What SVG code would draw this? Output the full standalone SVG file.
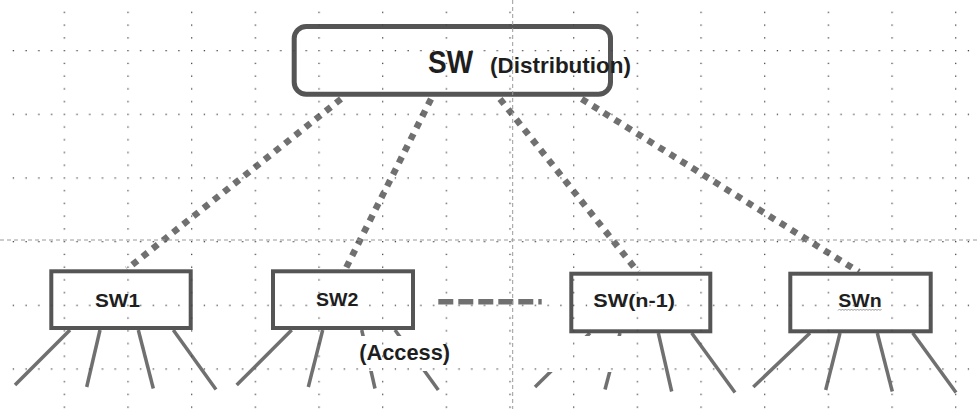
<svg xmlns="http://www.w3.org/2000/svg" width="977" height="409" viewBox="0 0 977 409">
  <defs>
    <style>
      .box { fill: #ffffff; stroke: #555555; stroke-width: 4; }
      .top { fill: #ffffff; stroke: #555555; stroke-width: 5; }
      .lbl { font-family: "Liberation Sans", Arial, sans-serif; font-weight: bold; fill: #1e1e1e; }
      .dot { fill: none; stroke: #707070; stroke-width: 6.5; stroke-dasharray: 6.5 6.5; }
      .leg { stroke: #707070; stroke-width: 3.5; stroke-linecap: butt; }
      .guide { stroke: #9a9a9a; stroke-width: 1; stroke-dasharray: 4 3; }
    </style>
    <pattern id="grid" patternUnits="userSpaceOnUse" x="0" y="50" width="63.67" height="63.67">
      <g fill="#444444">
        <rect x="0" y="0" width="1.3" height="1.3"/>
        <rect x="0" y="12.73" width="1.3" height="1.3"/>
        <rect x="0" y="25.47" width="1.3" height="1.3"/>
        <rect x="0" y="38.2" width="1.3" height="1.3"/>
        <rect x="0" y="50.93" width="1.3" height="1.3"/>
        <rect x="12.73" y="0" width="1.3" height="1.3"/>
        <rect x="25.47" y="0" width="1.3" height="1.3"/>
        <rect x="38.2" y="0" width="1.3" height="1.3"/>
        <rect x="50.93" y="0" width="1.3" height="1.3"/>
      </g>
    </pattern>
  </defs>

  <rect x="0" y="0" width="977" height="409" fill="#ffffff"/>

  <!-- legs below access switches -->
  <g id="legs">
    <line class="leg" x1="70" y1="330" x2="15" y2="385"/>
    <line class="leg" x1="100" y1="330" x2="86.7" y2="387"/>
    <line class="leg" x1="138.3" y1="330" x2="153.3" y2="388.5"/>
    <line class="leg" x1="173.3" y1="330" x2="216" y2="389.5"/>

    <line class="leg" x1="291.7" y1="330" x2="236.7" y2="385"/>
    <line class="leg" x1="322.7" y1="330" x2="308.3" y2="387"/>
    <line class="leg" x1="361.7" y1="330" x2="375" y2="388.5"/>
    <line class="leg" x1="395" y1="330" x2="438.3" y2="390"/>

    <line class="leg" x1="590" y1="333" x2="535" y2="387"/>
    <line class="leg" x1="620" y1="333" x2="605" y2="389.5"/>
    <line class="leg" x1="658.3" y1="333" x2="671.7" y2="391.5"/>
    <line class="leg" x1="691.7" y1="333" x2="735" y2="392.5"/>

    <line class="leg" x1="810" y1="333" x2="753.3" y2="387"/>
    <line class="leg" x1="840" y1="333" x2="825.7" y2="390"/>
    <line class="leg" x1="877.3" y1="333" x2="892.3" y2="391.5"/>
    <line class="leg" x1="912.7" y1="333" x2="956" y2="392.5"/>
  </g>

  <!-- white areas covering parts of the legs -->
  <rect x="352" y="336" width="105" height="35" fill="#ffffff"/>
  <rect x="528" y="336" width="110" height="36" fill="#ffffff"/>

  <!-- connectors -->
  <g id="connectors">
    <line class="dot" x1="341" y1="99" x2="127" y2="269"/>
    <line class="dot" x1="431" y1="99" x2="345" y2="270"/>
    <line class="dot" x1="500" y1="99" x2="638" y2="272"/>
    <line class="dot" x1="581.7" y1="99" x2="859" y2="272"/>
    <line x1="438.3" y1="301.7" x2="541.7" y2="301.7" stroke="#707070" stroke-width="5.5" stroke-dasharray="15 5"/>
  </g>

  <!-- distribution switch -->
  <g id="sw-distribution">
    <rect class="top" x="294.2" y="26.5" width="316.3" height="67.7" rx="12" ry="12"/>
    <text class="lbl" x="428" y="72.7" font-size="32" textLength="45" lengthAdjust="spacingAndGlyphs">SW</text>
    <text class="lbl" x="490" y="72.7" font-size="22" textLength="141" lengthAdjust="spacingAndGlyphs">(Distribution)</text>
  </g>

  <g id="sw1">
    <rect class="box" x="51.3" y="271.3" width="139.4" height="56.7"/>
    <text class="lbl" x="95" y="306.7" font-size="19" textLength="45" lengthAdjust="spacingAndGlyphs">SW1</text>
  </g>

  <g id="sw2">
    <rect class="box" x="273" y="271.3" width="140" height="56.7"/>
    <text class="lbl" x="316" y="306.3" font-size="19" textLength="42.3" lengthAdjust="spacingAndGlyphs">SW2</text>
  </g>

  <g id="sw-n-1">
    <rect class="box" x="571.3" y="273.7" width="139" height="57.6"/>
    <text class="lbl" x="593.3" y="306.7" font-size="19" textLength="81.7" lengthAdjust="spacingAndGlyphs">SW(n-1)</text>
  </g>

  <g id="swn">
    <rect class="box" x="790.3" y="273.7" width="140.4" height="57.6"/>
    <text class="lbl" x="838.3" y="307.3" font-size="19" textLength="43.4" lengthAdjust="spacingAndGlyphs">SWn</text>
    <path d="M838 310.5 l1.5 -1.5 l1.5 1.5 l1.5 -1.5 l1.5 1.5 l1.5 -1.5 l1.5 1.5 l1.5 -1.5 l1.5 1.5 l1.5 -1.5 l1.5 1.5 l1.5 -1.5 l1.5 1.5 l1.5 -1.5 l1.5 1.5 l1.5 -1.5 l1.5 1.5 l1.5 -1.5 l1.5 1.5 l1.5 -1.5 l1.5 1.5 l1.5 -1.5 l1.5 1.5 l1.5 -1.5 l1.5 1.5 l1.5 -1.5 l1.5 1.5 l1.5 -1.5 l1.5 1.5 l1.5 -1.5" fill="none" stroke="#8a8a8a" stroke-width="0.9"/>
  </g>

  <g id="access-label">
    <text class="lbl" x="359.3" y="360" font-size="22" textLength="90.7" lengthAdjust="spacingAndGlyphs">(Access)</text>
  </g>

  <!-- guides and grid overlay -->
  <g id="guides">
    <line class="guide" x1="512.7" y1="0" x2="512.7" y2="409"/>
    <line class="guide" x1="0" y1="240" x2="977" y2="240"/>
    <rect x="10" y="5" width="967" height="404" fill="url(#grid)"/>
  </g>
</svg>
